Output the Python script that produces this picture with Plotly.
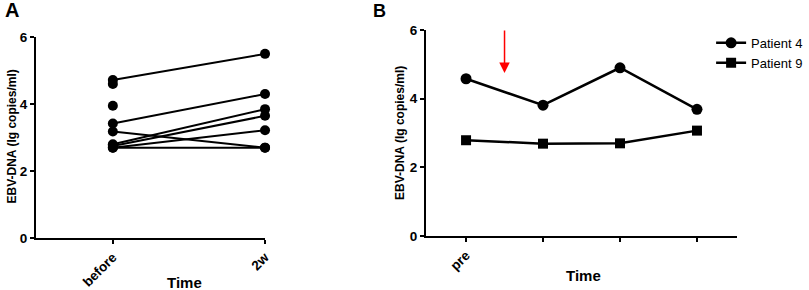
import plotly.graph_objects as go

# Panel A: paired values (before, 2w); None = missing
a_categories = [0, 1]
a_tick_labels = ["before", "2w"]
a_before = [4.72, 4.60, 3.95, 3.42, 3.18, 2.80, 2.75, 2.70, 2.70]
a_after = [5.50, None, None, 4.30, 2.70, 3.85, 3.65, 3.22, 2.70]

# Panel B
b_categories = [0, 1, 2, 3]
b_tick_labels = ["pre", "", "", ""]
patient4 = [4.58, 3.81, 4.90, 3.69]
patient9 = [2.79, 2.69, 2.70, 3.07]
arrow_x = 0.5
arrow_top = 6.03
arrow_tip = 4.75

FONT = "Arial, Liberation Sans, sans-serif"
fig = go.Figure()

for b, a in zip(a_before, a_after):
    fig.add_trace(go.Scatter(
        x=a_categories, y=[b, a], mode="lines+markers", xaxis="x", yaxis="y",
        line=dict(color="black", width=2), marker=dict(size=10, color="black"),
        showlegend=False, connectgaps=False, cliponaxis=False))

fig.add_trace(go.Scatter(
    x=b_categories, y=patient4, mode="lines+markers", name="Patient 4",
    xaxis="x2", yaxis="y2", line=dict(color="black", width=2.5),
    marker=dict(symbol="circle", size=11, color="black")))
fig.add_trace(go.Scatter(
    x=b_categories, y=patient9, mode="lines+markers", name="Patient 9",
    xaxis="x2", yaxis="y2", line=dict(color="black", width=2.5),
    marker=dict(symbol="square", size=10, color="black")))

tickfont = dict(family=FONT, size=13.5, color="black", weight="bold")
axis_common = dict(showline=True, linecolor="black", linewidth=2.2, ticks="outside",
                   ticklen=4, tickwidth=2, tickcolor="black", showgrid=False,
                   zeroline=False, tickfont=tickfont, automargin=False)

fig.update_layout(
    width=809, height=290, margin=dict(l=0, r=0, t=0, b=0, autoexpand=False),
    plot_bgcolor="white", paper_bgcolor="white",
    xaxis=dict(domain=[0.0445, 0.3276], range=[-0.505, 1.0], tickmode="array",
               tickvals=a_categories, ticktext=a_tick_labels, tickangle=-45,
               anchor="y", **axis_common),
    yaxis=dict(domain=[0.179, 0.872], range=[0, 6], tickvals=[0, 2, 4, 6],
               anchor="x", **axis_common),
    xaxis2=dict(domain=[0.5266, 0.911], range=[-0.52, 3.52], tickmode="array",
                tickvals=b_categories, ticktext=b_tick_labels, tickangle=-45,
                anchor="y2", **axis_common),
    yaxis2=dict(domain=[0.186, 0.8966], range=[0, 6], tickvals=[0, 2, 4, 6],
                anchor="x2", **axis_common),
    legend=dict(x=0.879, y=0.904, xanchor="left", yanchor="top",
                font=dict(family=FONT, size=13, color="black"),
                bgcolor="rgba(0,0,0,0)", itemwidth=30, tracegroupgap=2),
)

ann = [
    dict(text="<b>A</b>", x=3 / 809, y=1 - 10 / 290, xref="paper", yref="paper",
         xanchor="left", yanchor="middle", showarrow=False,
         font=dict(family=FONT, size=20, color="black")),
    dict(text="<b>B</b>", x=371 / 809, y=1 - 11 / 290, xref="paper", yref="paper",
         xanchor="left", yanchor="middle", showarrow=False,
         font=dict(family=FONT, size=18, color="black")),
    dict(text="<b>EBV-DNA (lg copies/ml)</b>", x=11.5 / 809, y=1 - 137 / 290,
         xref="paper", yref="paper", xanchor="center", yanchor="middle",
         textangle=-90, showarrow=False,
         font=dict(family=FONT, size=12, color="black")),
    dict(text="<b>EBV-DNA (lg copies/ml)</b>", x=400 / 809, y=1 - 133 / 290,
         xref="paper", yref="paper", xanchor="center", yanchor="middle",
         textangle=-90, showarrow=False,
         font=dict(family=FONT, size=12, color="black")),
    dict(text="<b>Time</b>", x=184 / 809, y=1 - 282 / 290, xref="paper", yref="paper",
         xanchor="center", yanchor="middle",
         showarrow=False, font=dict(family=FONT, size=15, color="black")),
    dict(text="<b>Time</b>", x=583 / 809, y=1 - 275 / 290, xref="paper", yref="paper",
         xanchor="center", yanchor="middle",
         showarrow=False, font=dict(family=FONT, size=15, color="black")),
    dict(x=arrow_x, y=arrow_tip, ax=arrow_x, ay=arrow_top, xref="x2", yref="y2",
         axref="x2", ayref="y2", showarrow=True, arrowhead=2, arrowsize=1.4,
         arrowwidth=1.5, arrowcolor="red", text=""),
]
fig.update_layout(annotations=ann)

fig.write_html("out.html", config={"displayModeBar": False},
               post_script="document.body.style.margin='0px';document.body.style.padding='0px';")
